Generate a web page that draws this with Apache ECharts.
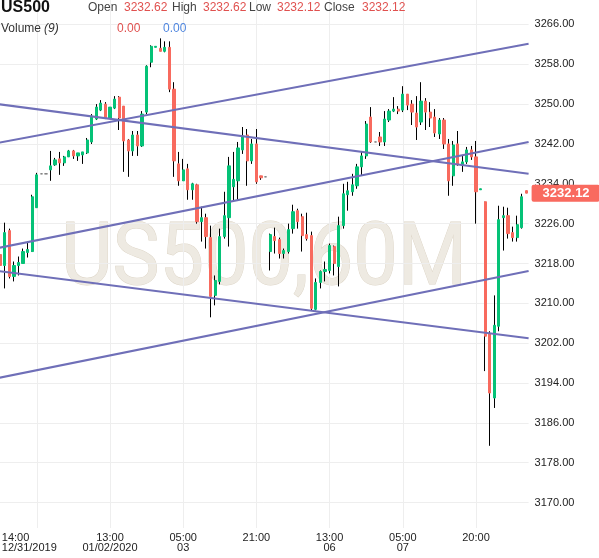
<!DOCTYPE html>
<html><head><meta charset="utf-8">
<script src="https://cdn.jsdelivr.net/npm/echarts@6/dist/echarts.min.js"></script>
<style>html,body{margin:0;padding:0;background:#fff}#c{width:599px;height:558px}</style>
</head><body><div id="c"></div>
<script>
const opens = [3219.8,3217.6,3224.6,3215.4,3217.6,3218.0,3220.2,3220.4,3229.2,3236.0,
3236.0,3236.8,3237.8,3239.0,3238.2,3239.4,3240.6,3239.6,3239.8,3240.2,
3242.4,3247.0,3248.8,3250.0,3247.2,3249.2,3251.4,3249.6,3242.8,3240.6,
3243.8,3241.6,3248.4,3258.4,3261.4,3261.2,3260.6,3261.4,3253.0,3238.0,
3234.6,3237.0,3232.8,3233.8,3226.4,3227.2,3223.2,3211.6,3214.4,3223.4,
3227.2,3233.4,3234.6,3240.8,3243.8,3238.6,3242.0,3235.6,3235.4,3220.4,
3223.4,3222.8,3220.0,3220.4,3225.0,3228.6,3227.4,3223.8,3223.6,3208.8,
3214.2,3216.4,3216.6,3221.4,3217.4,3225.6,3231.8,3232.4,3233.6,3237.4,
3239.6,3247.4,3242.4,3243.4,3242.4,3246.8,3248.6,3249.0,3248.8,3252.0,
3250.0,3248.2,3246.4,3250.6,3248.4,3247.4,3244.0,3246.8,3242.0,3235.6,
3242.0,3237.8,3238.4,3240.8,3239.4,3232.8,3230.4,3204.0,3191.0,3205.4,
3227.2,3227.6,3224.2,3223.2,3225.2,3232.62];
const closes = [3217.6,3224.2,3215.4,3217.6,3218.2,3220.4,3220.8,3231.4,3235.8,3236.0,
3236.0,3237.6,3238.8,3238.2,3239.4,3240.6,3239.6,3240.2,3240.4,3242.8,
3247.6,3249.4,3250.2,3247.2,3249.4,3251.0,3247.2,3242.6,3240.6,3243.8,
3241.6,3248.0,3257.6,3261.6,3261.6,3260.6,3261.4,3253.0,3238.6,3234.6,
3236.8,3232.8,3234.0,3226.4,3227.2,3223.4,3211.4,3214.6,3223.4,3227.6,
3237.6,3234.9,3241.2,3243.6,3238.6,3242.0,3234.4,3235.2,3235.4,3223.8,
3222.6,3220.0,3220.6,3224.8,3228.4,3226.4,3223.6,3223.0,3209.0,3214.2,
3216.4,3216.8,3221.6,3218.0,3225.6,3232.0,3232.6,3233.8,3237.4,3239.6,
3246.0,3242.4,3242.4,3242.4,3247.0,3248.6,3249.0,3248.6,3252.0,3249.8,
3248.4,3245.4,3250.6,3248.4,3247.2,3244.2,3246.8,3242.0,3234.6,3241.8,
3237.8,3238.4,3240.8,3239.4,3232.4,3233.0,3203.4,3192.0,3205.6,3226.8,
3227.6,3224.0,3223.2,3225.8,3231.4,3232.12];
const lows = [3215.6,3213.0,3215.0,3214.4,3215.6,3218.0,3219.2,3220.4,3229.2,3236.0,
3236.0,3234.6,3237.6,3235.8,3237.6,3239.4,3239.0,3238.6,3238.0,3240.0,
3242.0,3246.8,3248.6,3247.0,3247.0,3249.0,3244.8,3236.4,3235.4,3239.6,
3239.6,3241.4,3248.0,3257.4,3261.4,3260.6,3260.4,3252.4,3235.4,3233.6,
3234.6,3230.8,3230.8,3226.0,3222.4,3221.0,3207.2,3209.6,3213.8,3223.0,
3221.4,3230.6,3230.8,3240.0,3233.6,3238.0,3234.0,3234.8,3235.4,3216.6,
3220.0,3219.0,3219.0,3220.0,3224.0,3225.0,3220.4,3222.6,3208.6,3208.6,
3213.0,3214.4,3216.0,3215.6,3213.4,3225.0,3228.6,3231.6,3233.0,3235.6,
3239.0,3242.2,3242.4,3241.6,3241.6,3246.4,3248.4,3248.0,3248.4,3248.8,
3245.8,3242.8,3245.8,3244.8,3245.4,3243.4,3243.0,3241.0,3231.6,3233.6,
3237.6,3236.4,3238.0,3238.8,3226.0,3232.8,3196.4,3181.4,3189.0,3204.4,
3220.6,3223.0,3222.4,3222.4,3225.0,3232.12];
const highs = [3224.2,3226.2,3225.0,3218.4,3219.4,3221.0,3222.4,3231.8,3236.2,3236.0,
3236.0,3240.6,3239.2,3240.4,3239.6,3240.8,3240.8,3240.2,3240.4,3243.2,
3248.0,3250.0,3250.8,3250.4,3249.4,3251.6,3251.6,3249.6,3243.0,3244.6,
3244.6,3248.6,3257.8,3261.8,3261.6,3263.2,3262.6,3262.6,3254.4,3240.4,
3239.0,3238.0,3234.2,3234.0,3229.4,3228.0,3225.6,3215.6,3225.0,3232.4,
3239.4,3240.4,3242.4,3245.4,3245.0,3243.0,3245.0,3235.6,3235.4,3224.0,
3225.2,3223.2,3221.0,3226.0,3229.8,3229.0,3228.0,3228.2,3224.4,3215.0,
3216.6,3218.4,3222.0,3221.6,3227.4,3234.0,3234.4,3236.0,3238.0,3240.4,
3246.6,3249.4,3242.4,3244.4,3248.6,3249.0,3251.4,3249.6,3253.6,3252.0,
3250.8,3251.6,3254.4,3251.2,3250.4,3249.0,3247.2,3247.2,3243.0,3242.6,
3244.6,3239.6,3241.4,3241.6,3242.6,3233.0,3230.4,3204.4,3211.6,3229.6,
3229.4,3229.2,3225.4,3227.6,3232.0,3232.62];

const tickIndex = [8, 24, 40, 56, 72, 88, 104];
const tickText = ['14:00\n12/31/2019', '13:00\n01/02/2020', '05:00\n03', '21:00', '13:00\n06', '05:00\n07', '20:00'];
const yTicks = [3170, 3178, 3186, 3194, 3202, 3210, 3218, 3226, 3234, 3242, 3250, 3258, 3266];
// trend lines: price at left edge, price at right edge
const trendStart = [3242.2, 3221.1, 3195.0, 3250.0, 3216.5];
const trendEnd   = [3262.1, 3242.4, 3216.5, 3236.0, 3203.0];
const lastPrice = 3232.12;
const headerLabels = ['Open', 'High', 'Low', 'Close'];
const headerValues = ['3232.62', '3232.62', '3232.12', '3232.12'];
const volumeValues = ['0.00', '0.00'];

const categories = opens.map((_, i) => String(i));
const N = categories.length;
const full = opens.map((o, i) => [o, closes[i], lows[i], highs[i]]);
const bodies = opens.map((o, i) => [o, closes[i], Math.min(o, closes[i]), Math.max(o, closes[i])]);

const UP = '#05c277', DOWN = '#f86a5e';
const FONT = '"Liberation Sans", Arial, sans-serif';
const isTick = (i) => tickIndex.indexOf(i) >= 0;

const chart = echarts.init(document.getElementById('c'), null, {renderer: 'canvas'});

const trendSeries = trendStart.map((s, k) => ({
  type: 'line', xAxisIndex: 1, yAxisIndex: 0, silent: true, symbol: 'none', z: 4,
  data: [[-0.5, s], [N - 0.5, trendEnd[k]]],
  lineStyle: {color: '#6f6fb8', width: 2}
}));

const headerX = [88, 124, 172, 203, 249, 277, 324, 362];
const graphics = [
  {type: 'text', x: 264, y: 262, scaleX: 0.9, z: 0, silent: true,
   style: {text: 'US500,60M', font: '88px Roboto, sans-serif', fill: '#eeeae2', stroke: '#ddd5c7', lineWidth: 1, textAlign: 'center', textVerticalAlign: 'middle'}},
  {type: 'text', x: 1, y: 8, z: 10, style: {text: 'US500', font: 'bold 16px ' + FONT, fill: '#111', textVerticalAlign: 'middle'}},
  {type: 'text', x: 1, y: 28.5, z: 10, style: {text: 'Volume', font: '12px ' + FONT, fill: '#333', textVerticalAlign: 'middle'}},
  {type: 'text', x: 44, y: 28.5, z: 10, style: {text: '(9)', font: 'italic 12px ' + FONT, fill: '#333', textVerticalAlign: 'middle'}},
  {type: 'text', x: 117, y: 28.5, z: 10, style: {text: volumeValues[0], font: '12px ' + FONT, fill: '#e0514f', textVerticalAlign: 'middle'}},
  {type: 'text', x: 163, y: 28.5, z: 10, style: {text: volumeValues[1], font: '12px ' + FONT, fill: '#4f86df', textVerticalAlign: 'middle'}}
];
headerLabels.forEach((l, k) => {
  graphics.push({type: 'text', x: headerX[2 * k], y: 8, z: 10, style: {text: l, font: '12px ' + FONT, fill: '#444', textVerticalAlign: 'middle'}});
  graphics.push({type: 'text', x: headerX[2 * k + 1], y: 7.5, z: 10, style: {text: headerValues[k], font: '12px ' + FONT, fill: '#e0514f', textVerticalAlign: 'middle'}});
});

chart.setOption({
  animation: false,
  backgroundColor: '#fff',
  grid: {left: -2.1, right: 70.4, top: 0, bottom: 30, containLabel: false, outerBoundsMode: 'none'},
  graphic: graphics,
  xAxis: [{
    type: 'category', data: categories, boundaryGap: true,
    axisLine: {show: false}, axisTick: {show: false},
    axisLabel: {
      interval: (i) => isTick(i), margin: 5, fontSize: 11, lineHeight: 10, color: '#222', fontFamily: FONT,
      formatter: (v, i) => {
        const k = tickIndex.indexOf(Number(v));
        if (k < 0) return '';
        if (k === 0) return tickText[0].split('\n').map(t => '{f|' + t + '}').join('\n');
        return tickText[k];
      },
      rich: {f: {width: 70, align: 'left', fontSize: 11, lineHeight: 10, color: '#222', fontFamily: FONT}}
    },
    splitLine: {show: true, interval: (i) => isTick(i), alignWithLabel: true, lineStyle: {color: '#eeeeee', width: 1}}
  }, {
    type: 'value', min: -0.5, max: N - 0.5, show: false
  }],
  yAxis: [{
    type: 'value', position: 'right', min: 3164.9, max: 3270.9, scale: true,
    axisLine: {show: false},
    axisTick: {show: false, customValues: yTicks},
    axisLabel: {customValues: yTicks, margin: 6, fontSize: 11, color: '#222', fontFamily: FONT, formatter: (v) => v.toFixed(2)},
    splitLine: {show: true, lineStyle: {color: '#eeeeee', width: 1}}
  }, {
    type: 'value', position: 'right', min: 3164.9, max: 3270.9, scale: true, z: 6,
    axisLine: {show: false},
    axisTick: {show: false, customValues: [lastPrice]},
    splitLine: {show: false},
    axisLabel: {customValues: [lastPrice], margin: 3, fontSize: 13, fontWeight: 'bold', color: '#fff', fontFamily: FONT,
      backgroundColor: '#f96a5f', padding: [2, 10, 2, 11], borderRadius: 2, formatter: (v) => v.toFixed(2)}
  }],
  series: [{
    type: 'candlestick', data: full, barWidth: 0.5, z: 2, silent: true,
    itemStyle: {color: '#000', color0: '#000', borderColor: '#000', borderColor0: '#000', borderColorDoji: '#000', borderWidth: 1}
  }, {
    type: 'candlestick', data: bodies, barWidth: 2.7, z: 3, silent: true,
    itemStyle: {color: UP, color0: DOWN, borderColor: UP, borderColor0: DOWN, borderColorDoji: '#777', borderWidth: 1}
  }].concat(trendSeries)
});
</script></body></html>
